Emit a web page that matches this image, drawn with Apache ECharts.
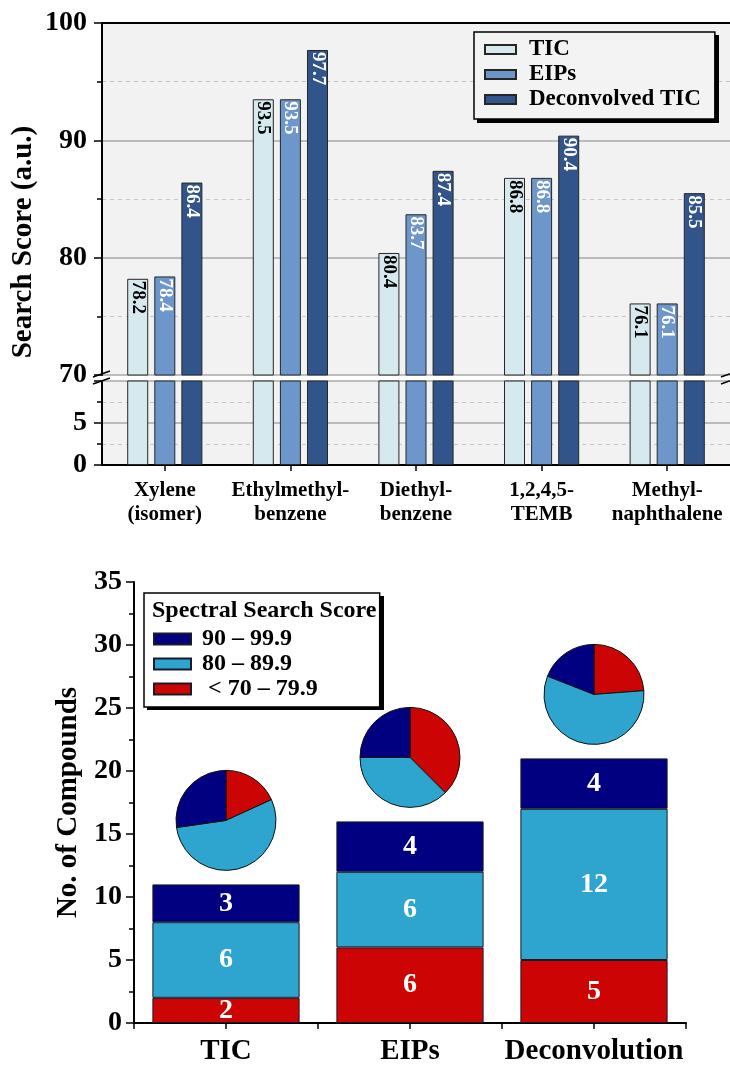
<!DOCTYPE html>
<html>
<head>
<meta charset="utf-8">
<script src="https://cdn.jsdelivr.net/npm/echarts@6/dist/echarts.min.js"></script>
<style>
  html, body { margin: 0; padding: 0; background: #ffffff; }
  #chart { width: 730px; height: 1066px; }
</style>
</head>
<body>
<div id="chart"></div>
<script>
// ---- Search scores per compound for each processing method ----
const compounds = ['Xylene\n(isomer)', 'Ethylmethyl-\nbenzene', 'Diethyl-\nbenzene', '1,2,4,5-\nTEMB', 'Methyl-\nnaphthalene'];
const methodNames = ['TIC', 'EIPs', 'Deconvolved TIC'];
const ticScores = [78.2, 93.5, 80.4, 86.8, 76.1];
const eipScores = [78.4, 93.5, 83.7, 86.8, 76.1];
const deconScores = [86.4, 97.7, 87.4, 90.4, 85.5];

// ---- Number of compounds per search-score band for each approach ----
const approaches = ['TIC', 'EIPs', 'Deconvolution'];
const bandNames = ['90 – 99.9', '80 – 89.9', '< 70 – 79.9'];
const countHigh = [3, 4, 4];
const countMid = [6, 6, 12];
const countLow = [2, 6, 5];

// ---- Styling ----
const FONT = '"Liberation Serif", "Times New Roman", serif';
const methodColors = ['#d5e9ee', '#6d97ca', '#31558a'];
const methodLabelColors = ['#000000', '#ffffff', '#ffffff'];
const bandColors = ['#000080', '#2da5cf', '#cc0404'];
const PIE_LIFT = 64;   // pie sits this many px above its stacked bar

// Broken score axis: upper panel 70–100, lower panel 0–10
const upperGrid = { left: 102, top: 23, width: 628, height: 352 };
const lowerGrid = { left: 102, top: 381, width: 628, height: 84 };
const countGrid = { left: 134, top: 582, width: 552, height: 442 };

const methodData = [ticScores, eipScores, deconScores];
const bandData = [countHigh, countMid, countLow];

const chart = echarts.init(document.getElementById('chart'));

const bold = (size, color) => ({ fontFamily: FONT, fontWeight: 'bold', fontSize: size, color: color || '#000' });

const valueAxisCommon = {
  type: 'value',
  axisLine: { show: true, lineStyle: { color: '#000', width: 2 } },
  axisTick: { show: true, length: 8, lineStyle: { color: '#000', width: 1.5 } },
  minorTick: { show: true, splitNumber: 2, length: 5, lineStyle: { color: '#000', width: 1.5 } },
  axisLabel: Object.assign({ margin: 15 }, bold(28))
};

const scoreSeries = [];
methodNames.forEach((name, k) => {
  const itemStyle = { color: methodColors[k], borderColor: '#262626', borderWidth: 1 };
  scoreSeries.push({
    type: 'bar', name, xAxisIndex: 0, yAxisIndex: 0, data: methodData[k],
    barWidth: 21, barGap: '29%', clip: true, itemStyle,
    label: Object.assign({
      show: true, position: 'insideTop', distance: 2, rotate: -90,
      align: 'left', verticalAlign: 'middle',
      formatter: p => p.value.toFixed(1)
    }, bold(19, methodLabelColors[k])),
    emphasis: { disabled: true }
  });
  scoreSeries.push({
    type: 'bar', name, xAxisIndex: 1, yAxisIndex: 1, data: methodData[k],
    barWidth: 21, barGap: '29%', clip: true, itemStyle,
    label: { show: false }, emphasis: { disabled: true }
  });
});

// stacked counts, bottom band first
const countSeries = [2, 1, 0].map(b => ({
  type: 'bar', name: bandNames[b], xAxisIndex: 3, yAxisIndex: 2, stack: 'count',
  data: bandData[b], barWidth: '80%',
  itemStyle: { color: bandColors[b], borderColor: '#1a1a2a', borderWidth: 1 },
  label: Object.assign({ show: true, position: 'inside' }, bold(28, '#ffffff')),
  emphasis: { disabled: true }
}));

// axis-break slashes on both sides of the gap
const breakLines = [];
[[93, 110], [721, 738]].forEach(([x1, x2]) => {
  breakLines.push({ type: 'line', z: 10, shape: { x1, y1: 377, x2, y2: 371 }, style: { stroke: '#000', lineWidth: 1.5 } });
  breakLines.push({ type: 'line', z: 10, shape: { x1, y1: 384, x2, y2: 378 }, style: { stroke: '#000', lineWidth: 1.5 } });
});

// drop shadows behind the two legend boxes
const legendShadows = [
  { type: 'rect', z: 3, shape: { x: 477, y: 35, width: 242, height: 88 }, style: { fill: '#000' } },
  { type: 'rect', z: 3, shape: { x: 147, y: 596, width: 237, height: 114 }, style: { fill: '#000' } }
];

const option = {
  animation: false,
  textStyle: { fontFamily: FONT },
  grid: [
    Object.assign({ show: true, backgroundColor: '#f2f2f2', borderWidth: 0 }, upperGrid),
    Object.assign({ show: true, backgroundColor: '#f2f2f2', borderWidth: 0 }, lowerGrid),
    countGrid
  ],
  xAxis: [
    { type: 'category', gridIndex: 0, data: compounds, position: 'bottom',
      axisLine: { show: false }, axisTick: { show: false }, axisLabel: { show: false } },
    { type: 'category', gridIndex: 1, data: compounds, position: 'bottom',
      axisLine: { show: true, onZero: false, lineStyle: { color: '#000', width: 2 } },
      axisTick: { show: true, alignWithLabel: true, length: 6, lineStyle: { color: '#000', width: 1.5 } },
      axisLabel: Object.assign({ margin: 14, lineHeight: 24, interval: 0 }, bold(21)) },
    { type: 'category', gridIndex: 0, data: compounds, position: 'top',
      axisLine: { show: true, onZero: false, lineStyle: { color: '#000', width: 2 } },
      axisTick: { show: false }, axisLabel: { show: false } },
    { type: 'category', gridIndex: 2, data: approaches, position: 'bottom',
      axisLine: { show: true, onZero: false, lineStyle: { color: '#000', width: 2 } },
      axisTick: { show: true, length: 6, lineStyle: { color: '#000', width: 1.5 } },
      axisLabel: Object.assign({ margin: 14, interval: 0 }, bold(29)) },
    { type: 'category', gridIndex: 2, data: approaches, position: 'bottom',
      axisLine: { show: false, onZero: false },
      axisTick: { show: true, alignWithLabel: true, length: 6, lineStyle: { color: '#000', width: 1.5 } },
      axisLabel: { show: false } }
  ],
  yAxis: [
    Object.assign({}, valueAxisCommon, {
      gridIndex: 0, min: 70, max: 100, interval: 10,
      splitLine: { show: true, lineStyle: { color: '#a8a8a8', width: 1.5 } },
      minorSplitLine: { show: true, lineStyle: { color: '#c4c4c4', type: [4, 4], width: 1 } }
    }),
    Object.assign({}, valueAxisCommon, {
      gridIndex: 1, min: 0, max: 10, interval: 5,
      axisLabel: Object.assign({ margin: 15, showMaxLabel: false }, bold(28)),
      splitLine: { show: true, lineStyle: { color: '#a8a8a8', width: 1.5 } },
      minorSplitLine: { show: true, lineStyle: { color: '#c4c4c4', type: [4, 4], width: 1 } }
    }),
    Object.assign({}, valueAxisCommon, {
      gridIndex: 2, min: 0, max: 35, interval: 5,
      axisLabel: Object.assign({ margin: 12 }, bold(28)),
      splitLine: { show: false },
      name: 'No. of Compounds', nameLocation: 'middle', nameGap: 50,
      nameTextStyle: bold(29)
    })
  ],
  legend: [
    {
      orient: 'vertical', left: 474, top: 32, data: methodNames,
      icon: 'rect', itemWidth: 31, itemHeight: 9, itemGap: 2,
      padding: [6, 14, 8, 10], z: 5,
      backgroundColor: '#f3f3f3', borderColor: '#000', borderWidth: 1.5,
      selectedMode: false,
      textStyle: Object.assign({ padding: [0, 0, 0, 8] }, bold(23))
    },
    {
      orient: 'vertical', left: 144, top: 593, data: bandNames,
      icon: 'rect', itemWidth: 37, itemHeight: 11, itemGap: 1,
      padding: [34, 62, 6, 9], z: 5,
      backgroundColor: '#ffffff', borderColor: '#000', borderWidth: 1.5,
      selectedMode: false,
      formatter: n => (n.charAt(0) === '<' ? ' ' + n : n),
      textStyle: Object.assign({ padding: [0, 0, 0, 6] }, bold(24))
    }
  ],
  title: {
    text: 'Spectral Search Score', left: 152, top: 599, padding: 0, z: 7,
    textStyle: bold(24)
  },
  graphic: [
    { type: 'text', x: 24, y: 242, rotation: Math.PI / 2,
      style: { text: 'Search Score (a.u.)', font: 'bold 29px ' + FONT, fill: '#000',
               align: 'center', verticalAlign: 'middle' } }
  ].concat(breakLines, legendShadows),
  series: scoreSeries.concat(countSeries)
};

chart.setOption(option);

// pies above each stacked bar, centred from the count axis
const pies = approaches.map((a, i) => {
  const total = countLow[i] + countMid[i] + countHigh[i];
  const pt = chart.convertToPixel({ xAxisIndex: 3, yAxisIndex: 2 }, [i, total]);
  return {
    type: 'pie', name: a + ' share', radius: 50, center: [pt[0], pt[1] - PIE_LIFT],
    startAngle: 90, clockwise: true, silent: true,
    label: { show: false }, labelLine: { show: false },
    itemStyle: { borderColor: '#111', borderWidth: 1 },
    data: [2, 1, 0].map(b => ({ name: bandNames[b], value: bandData[b][i], itemStyle: { color: bandColors[b] } }))
  };
});
chart.setOption({ series: scoreSeries.concat(countSeries, pies) });
</script>
</body>
</html>
